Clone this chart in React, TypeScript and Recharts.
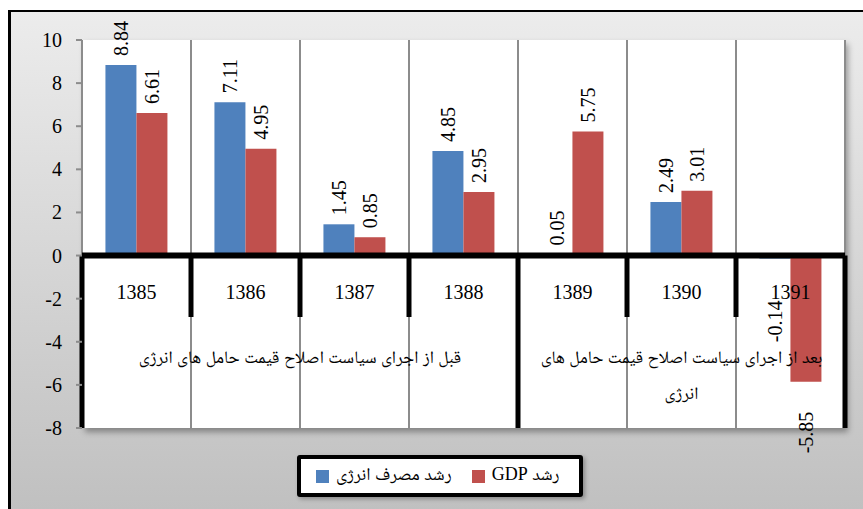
import React from 'react'
import {
  BarChart,
  Bar,
  XAxis,
  YAxis,
  CartesianGrid,
  ReferenceLine,
  LabelList,
} from 'recharts'

// years (Persian calendar)
const years = ['1385', '1386', '1387', '1388', '1389', '1390', '1391']
const energyGrowth = [8.84, 7.11, 1.45, 4.85, 0.05, 2.49, -0.14]
const gdpGrowth = [6.61, 4.95, 0.85, 2.95, 5.75, 3.01, -5.85]
const yTicks = [-8, -6, -4, -2, 0, 2, 4, 6, 8, 10]

const energyName = 'رشد مصرف انرژی'
const gdpName = 'رشد GDP'
const beforeLabel = ['قبل از اجرای سیاست اصلاح قیمت حامل های انرژی']
const afterLabel = ['بعد از اجرای سیاست اصلاح قیمت حامل های', 'انرژی']

const data = years.map((year, i) => ({
  year,
  energy: energyGrowth[i],
  gdp: gdpGrowth[i],
}))

const W = 863
const H = 509
const SERIF =
  "'Liberation Serif', 'Times New Roman', 'Noto Naskh Arabic', 'Noto Sans Arabic', serif"
const BLUE = '#4f81bd'
const RED = '#c0504d'
const GRID = '#8c8c8c'

const legendItems = [
  { name: energyName, color: BLUE },
  { name: gdpName, color: RED },
]

function ValueLabel(props: any) {
  const { x, y, width, height, value, gap = 8, negGap = 36 } = props
  const cx = Number(x) + Number(width) / 2
  const top = Math.min(Number(y), Number(y) + Number(height))
  const bottom = Math.max(Number(y), Number(y) + Number(height))
  const neg = Number(value) < 0
  const ty = neg ? bottom + negGap : top - gap
  return (
    <text
      x={cx}
      y={ty}
      transform={`rotate(-90, ${cx}, ${ty})`}
      textAnchor={neg ? 'end' : 'start'}
      dominantBaseline='central'
      style={{ fontSize: 20, fontFamily: SERIF, fill: '#000' }}
    >
      {Number(value).toFixed(2)}
    </text>
  )
}

function GroupText({ cx, cy, lines }: { cx: number; cy: number; lines: string[] }) {
  const step = 36
  const start = cy - ((lines.length - 1) * step) / 2
  return (
    <g>
      {lines.map((l, i) => (
        <text
          key={i}
          x={cx}
          y={start + i * step}
          textAnchor='middle'
          dominantBaseline='central'
          direction='rtl'
          style={{ fontSize: 17.6, fontFamily: SERIF, fill: '#000' }}
        >
          {l}
        </text>
      ))}
    </g>
  )
}

// year label under the zero line, plus the two period captions
function YearTick(props: any) {
  const { x, payload, index } = props
  const half = payload.offset ?? 54.5
  return (
    <g>
      <text
        x={x}
        y={299}
        textAnchor='middle'
        style={{ fontSize: 20, fontFamily: SERIF, fill: '#000' }}
      >
        {payload.value}
      </text>
      {index === 1 && <GroupText cx={x + half} cy={357} lines={beforeLabel} />}
      {index === 5 && <GroupText cx={x} cy={375} lines={afterLabel} />}
    </g>
  )
}

function YTick(props: any) {
  const { x, y, payload } = props
  return (
    <text
      x={x}
      y={y}
      textAnchor='end'
      dominantBaseline='central'
      style={{ fontSize: 20, fontFamily: SERIF, fill: '#000' }}
    >
      {payload.value}
    </text>
  )
}

function LegendBox() {
  return (
    <div
      style={{
        position: 'absolute',
        left: 297,
        top: 455,
        boxSizing: 'border-box',
        width: 286,
        height: 42,
        border: '4px solid #000',
        borderRadius: 3,
        background: '#fff',
        display: 'flex',
        alignItems: 'center',
        gap: 20,
        padding: '0 0 0 15px',
        fontFamily: SERIF,
        fontSize: 18,
        whiteSpace: 'nowrap',
        boxShadow: '2px 2px 4px rgba(0,0,0,0.3)',
      }}
    >
      {legendItems.map((p) => (
        <span
          key={p.name}
          style={{ display: 'flex', alignItems: 'center', gap: 7 }}
        >
          <span
            style={{
              width: 13,
              height: 13,
              background: p.color,
              display: 'inline-block',
            }}
          />
          <span dir='rtl'>{p.name}</span>
        </span>
      ))}
    </div>
  )
}

export default function App() {
  return (
    <div
      style={{
        position: 'absolute',
        left: 0,
        top: 0,
        width: W,
        height: H,
        background: '#fff',
        overflow: 'hidden',
      }}
    >
      {/* outer frame */}
      <div
        style={{
          position: 'absolute',
          left: 8,
          top: 10,
          width: W,
          height: H,
          borderTop: '2px solid #000',
          borderLeft: '3px solid #000',
          background: 'linear-gradient(#ececec, #bfbfbf)',
        }}
      />
      {/* plot shadow */}
      <div
        style={{
          position: 'absolute',
          left: 82,
          top: 40,
          width: 763,
          height: 388,
          background: '#fff',
          boxShadow: '3px 4px 6px rgba(0,0,0,0.35)',
        }}
      />
      <div style={{ position: 'absolute', left: 0, top: 0 }}>
        <BarChart
          width={W}
          height={H}
          data={data}
          margin={{ top: 40, right: 18, left: 20, bottom: 51 }}
          barCategoryGap='21.5%'
          barGap={0}
        >
          <CartesianGrid horizontal={false} vertical={false} fill='#fff' />
          <ReferenceLine x={years[0]} position='start' stroke={GRID} strokeWidth={2} />
          {years.map((y) => (
            <ReferenceLine key={'g' + y} x={y} position='end' stroke={GRID} strokeWidth={2} />
          ))}
          <Bar dataKey='energy' name={energyName} fill={BLUE} isAnimationActive={false}>
            <LabelList
              dataKey='energy'
              content={(p: any) => <ValueLabel {...p} gap={9} negGap={42} />}
            />
          </Bar>
          <Bar dataKey='gdp' name={gdpName} fill={RED} isAnimationActive={false}>
            <LabelList
              dataKey='gdp'
              content={(p: any) => <ValueLabel {...p} gap={9} negGap={30} />}
            />
          </Bar>
          {/* short thick dividers below the zero line */}
          {[0, 1, 2, 4, 5].map((i) => (
            <ReferenceLine
              key={'d' + i}
              position='end'
              segment={[
                { x: years[i], y: 0 },
                { x: years[i], y: -2.85 },
              ]}
              stroke='#000'
              strokeWidth={5}
            />
          ))}
          {/* full thick dividers */}
          <ReferenceLine
            position='start'
            segment={[
              { x: years[0], y: 0 },
              { x: years[0], y: -8 },
            ]}
            stroke='#000'
            strokeWidth={5}
          />
          {[3, 6].map((i) => (
            <ReferenceLine
              key={'f' + i}
              position='end'
              segment={[
                { x: years[i], y: 0 },
                { x: years[i], y: -8 },
              ]}
              stroke='#000'
              strokeWidth={5}
            />
          ))}
          <ReferenceLine y={0} stroke='#000' strokeWidth={6} />
          <XAxis
            dataKey='year'
            height={30}
            axisLine={false}
            tickLine={false}
            tick={<YearTick />}
            interval={0}
          />
          <YAxis
            width={62}
            domain={[-8, 10]}
            ticks={yTicks}
            interval={0}
            axisLine={false}
            tickLine={{ stroke: GRID, strokeWidth: 2 }}
            tickSize={6}
            tickMargin={14}
            tick={<YTick />}
          />
        </BarChart>
      </div>
      <LegendBox />
    </div>
  )
}
